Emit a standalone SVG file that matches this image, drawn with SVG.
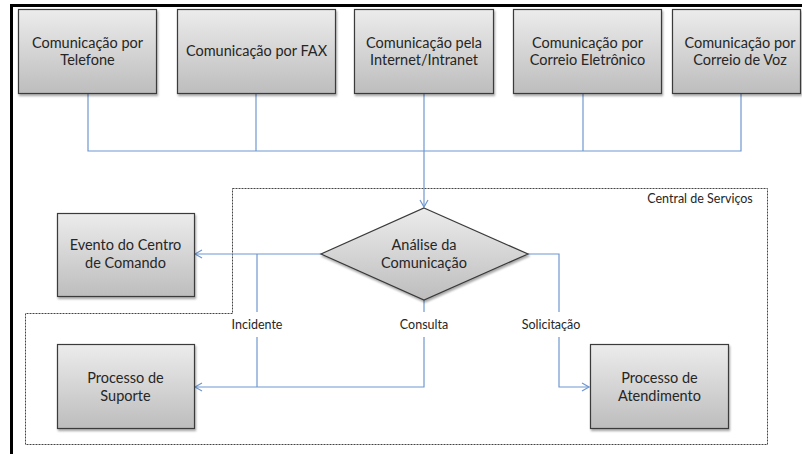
<svg xmlns="http://www.w3.org/2000/svg" width="802" height="454" viewBox="0 0 802 454">
  <defs>
    <linearGradient id="boxFill" x1="0" y1="0" x2="0" y2="1">
      <stop offset="0" stop-color="#ececec"/>
      <stop offset="1" stop-color="#bdbdbd"/>
    </linearGradient>
    <filter id="shadow" x="-10%" y="-10%" width="125%" height="130%">
      <feDropShadow dx="1" dy="2" stdDeviation="1.2" flood-color="#000" flood-opacity="0.35"/>
    </filter>
    <marker id="arrow" markerWidth="10" markerHeight="10" refX="8" refY="5" orient="auto" markerUnits="userSpaceOnUse">
      <path d="M1,1 L8,5 L1,9" fill="none" stroke="#6f97cf" stroke-width="1.2"/>
    </marker>
  </defs>
  <style>
    .box { fill: url(#boxFill); stroke: #3a3a3a; stroke-width: 1.2; filter: url(#shadow); }
    .lbl { font-family: Lato, "Liberation Sans", sans-serif; font-size: 14.5px; fill: #262626; text-anchor: middle; }
    .small { font-family: Lato, "Liberation Sans", sans-serif; font-size: 12.5px; fill: #262626; text-anchor: middle; }
    .conn { fill: none; stroke: #6f97cf; stroke-width: 1.2; }
    .frame { fill: none; stroke: #000; stroke-width: 3; }
    .zone { fill: none; stroke: #444; stroke-width: 1; stroke-dasharray: 2 1; }
  </style>

  <rect width="802" height="454" fill="#fff"/>

  <!-- page frame -->
  <path class="frame" d="M11.5,454 V5.5 H802"/>

  <!-- service desk boundary -->
  <g id="central-servicos">
    <path class="zone" d="M232.5,188.5 H767.5 V444.5 H25.5 V313.5 H232.5 Z"/>
    <text class="small" x="700" y="203">Central de Serviços</text>
  </g>

  <!-- connectors -->
  <g id="connectors">
    <path class="conn" d="M88,93 V151 H741 V93"/>
    <path class="conn" d="M256,93 V151"/>
    <path class="conn" d="M583,93 V151"/>
    <path class="conn" d="M424,93 V207" marker-end="url(#arrow)"/>
    <path class="conn" d="M321,254 H195" marker-end="url(#arrow)"/>
    <path class="conn" d="M257,254 V312 M257,337 V387"/>
    <path class="conn" d="M424,300 V312 M424,337 V387 H195" marker-end="url(#arrow)"/>
    <path class="conn" d="M528,254 H559 V312 M559,337 V387 H589" marker-end="url(#arrow)"/>
    <text class="small" x="257" y="329">Incidente</text>
    <text class="small" x="424" y="329">Consulta</text>
    <text class="small" x="551" y="329">Solicitação</text>
  </g>

  <g id="telefone">
    <rect class="box" x="18.5" y="9.5" width="138" height="84"/>
    <text class="lbl" x="87.5" y="48">Comunicação por</text>
    <text class="lbl" x="87.5" y="65">Telefone</text>
  </g>
  <g id="fax">
    <rect class="box" x="177.5" y="9.5" width="158" height="84"/>
    <text class="lbl" x="256.5" y="56">Comunicação por FAX</text>
  </g>
  <g id="internet">
    <rect class="box" x="354.5" y="9.5" width="139" height="84"/>
    <text class="lbl" x="424" y="48">Comunicação pela</text>
    <text class="lbl" x="424" y="65">Internet/Intranet</text>
  </g>
  <g id="correio-eletronico">
    <rect class="box" x="513.5" y="9.5" width="148" height="84"/>
    <text class="lbl" x="587.5" y="48">Comunicação por</text>
    <text class="lbl" x="587.5" y="65">Correio Eletrônico</text>
  </g>
  <g id="correio-voz">
    <rect class="box" x="672.5" y="9.5" width="128" height="84"/>
    <text class="lbl" x="740" y="48">Comunicação por</text>
    <text class="lbl" x="740" y="65">Correio de Voz</text>
  </g>

  <g id="analise">
    <polygon class="box" points="424,208 528,254 424,300 321,254"/>
    <text class="lbl" x="424" y="250">Análise da</text>
    <text class="lbl" x="424" y="268">Comunicação</text>
  </g>

  <g id="evento">
    <rect class="box" x="57.5" y="213.5" width="137" height="83"/>
    <text class="lbl" x="125.5" y="250">Evento do Centro</text>
    <text class="lbl" x="125.5" y="268">de Comando</text>
  </g>

  <g id="suporte">
    <rect class="box" x="57.5" y="344.5" width="137" height="84"/>
    <text class="lbl" x="125.5" y="383">Processo de</text>
    <text class="lbl" x="125.5" y="401">Suporte</text>
  </g>

  <g id="atendimento">
    <rect class="box" x="590.5" y="344.5" width="138" height="84"/>
    <text class="lbl" x="659.5" y="383">Processo de</text>
    <text class="lbl" x="659.5" y="401">Atendimento</text>
  </g>
</svg>
